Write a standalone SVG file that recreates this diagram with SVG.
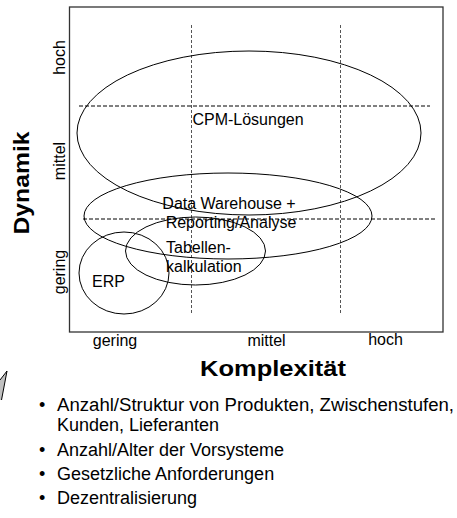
<svg xmlns="http://www.w3.org/2000/svg" width="457" height="518" viewBox="0 0 457 518">
<style>
text{font-family:"Liberation Sans",Arial,sans-serif;fill:#000}
.lbl{font-size:16px}
.ax{font-size:16px}
.big{font-size:22px;font-weight:bold}
.bul{font-size:18px}
.ell{fill:none;stroke:#000;stroke-width:1}
.vd{stroke:#555;stroke-width:1;stroke-dasharray:3,2;fill:none}
.hd{stroke:#000;stroke-width:1;stroke-dasharray:4,2;fill:none}
</style>
<rect width="457" height="518" fill="#fff"/>
<g id="frame">
<rect x="69.5" y="7" width="373.5" height="325" fill="none" stroke="#333" stroke-width="1.3"/>
</g>
<g id="grid">
<line class="vd" x1="191.5" y1="25" x2="191.5" y2="314"/>
<line class="vd" x1="340.5" y1="25" x2="340.5" y2="314"/>
<line class="hd" x1="79" y1="106" x2="430" y2="106"/>
<line class="hd" x1="83" y1="219" x2="435" y2="219"/>
</g>
<g id="cpm">
<ellipse class="ell" cx="249" cy="133" rx="172" ry="82"/>
<text class="lbl" x="248" y="125" text-anchor="middle">CPM-Lösungen</text>
</g>
<g id="dwh">
<ellipse class="ell" cx="228" cy="216" rx="144" ry="43"/>
<text class="lbl" x="229" y="209" text-anchor="middle">Data Warehouse +</text>
<text class="lbl" x="231" y="228" text-anchor="middle">Reporting/Analyse</text>
</g>
<g id="tab">
<ellipse class="ell" cx="195.5" cy="251" rx="70" ry="34"/>
<text class="lbl" x="166" y="253">Tabellen-</text>
<text class="lbl" x="166" y="272">kalkulation</text>
</g>
<g id="erp">
<ellipse class="ell" cx="124" cy="273" rx="45" ry="41"/>
<text class="lbl" x="92" y="287">ERP</text>
</g>
<g id="axes">
<text class="ax" x="115" y="346" text-anchor="middle">gering</text>
<text class="ax" x="266.5" y="346" text-anchor="middle">mittel</text>
<text class="ax" x="385.5" y="345" text-anchor="middle">hoch</text>
<text class="ax" transform="rotate(-90 65 57.5)" x="65" y="57.5" text-anchor="middle">hoch</text>
<text class="ax" transform="rotate(-90 65 161)" x="65" y="161" text-anchor="middle">mittel</text>
<text class="ax" transform="rotate(-90 65 272)" x="65" y="272" text-anchor="middle">gering</text>
<text class="big" transform="rotate(-90 29 183)" x="29" y="183" text-anchor="middle" textLength="103" lengthAdjust="spacingAndGlyphs">Dynamik</text>
<text class="big" x="273" y="376" text-anchor="middle" textLength="146" lengthAdjust="spacingAndGlyphs">Komplexität</text>
</g>
<g id="callout">
<polygon points="7,371 0,380 0,400 1.5,400" fill="#c0c0c0"/>
<polyline points="0,380 7,371 1.5,400" fill="none" stroke="#000" stroke-width="1"/>
</g>
<g id="bullets">
<text class="bul" x="39" y="411">•</text>
<text class="bul" x="57" y="411" textLength="397" lengthAdjust="spacingAndGlyphs">Anzahl/Struktur von Produkten, Zwischenstufen,</text>
<text class="bul" x="57" y="431">Kunden, Lieferanten</text>
<text class="bul" x="39" y="456">•</text>
<text class="bul" x="57" y="456">Anzahl/Alter der Vorsysteme</text>
<text class="bul" x="39" y="480">•</text>
<text class="bul" x="57" y="480">Gesetzliche Anforderungen</text>
<text class="bul" x="39" y="504">•</text>
<text class="bul" x="57" y="504">Dezentralisierung</text>
</g>
</svg>
